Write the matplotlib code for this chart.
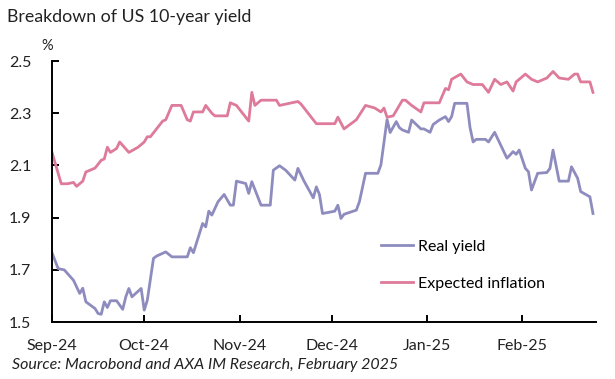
import pandas as pd
import matplotlib
matplotlib.use("Agg")
import matplotlib.pyplot as plt
import matplotlib.dates as mdates

# expected inflation (pink)
infl_dates = [
    "2024-09-01", "2024-09-02", "2024-09-04", "2024-09-06", "2024-09-08", "2024-09-09",
    "2024-09-11", "2024-09-12", "2024-09-15", "2024-09-17", "2024-09-18", "2024-09-19",
    "2024-09-20", "2024-09-22", "2024-09-23", "2024-09-26", "2024-09-29",
    "2024-10-01", "2024-10-02", "2024-10-03", "2024-10-07", "2024-10-08", "2024-10-10",
    "2024-10-13", "2024-10-15", "2024-10-16", "2024-10-17", "2024-10-20", "2024-10-21",
    "2024-10-23", "2024-10-24", "2024-10-28", "2024-10-29", "2024-10-31",
    "2024-11-04", "2024-11-05", "2024-11-06", "2024-11-08", "2024-11-13", "2024-11-14",
    "2024-11-16", "2024-11-18", "2024-11-20", "2024-11-21", "2024-11-24", "2024-11-26",
    "2024-12-02", "2024-12-03", "2024-12-05", "2024-12-09", "2024-12-12", "2024-12-15",
    "2024-12-17", "2024-12-18", "2024-12-19", "2024-12-21", "2024-12-24", "2024-12-25",
    "2024-12-27", "2024-12-30", "2024-12-31",
    "2025-01-05", "2025-01-07", "2025-01-08", "2025-01-09", "2025-01-12", "2025-01-14",
    "2025-01-16", "2025-01-19", "2025-01-21", "2025-01-23", "2025-01-25", "2025-01-27",
    "2025-01-29", "2025-01-30",
    "2025-02-02", "2025-02-04", "2025-02-06", "2025-02-09", "2025-02-11", "2025-02-13",
    "2025-02-16", "2025-02-18", "2025-02-19", "2025-02-20", "2025-02-23", "2025-02-24",
]
infl_values = [
    2.15, 2.11, 2.03, 2.03, 2.035, 2.02,
    2.04, 2.075, 2.09, 2.12, 2.125, 2.17,
    2.15, 2.165, 2.19, 2.15, 2.17,
    2.19, 2.21, 2.21, 2.27, 2.275, 2.33,
    2.33, 2.275, 2.27, 2.305, 2.305, 2.33,
    2.30, 2.29, 2.29, 2.34, 2.33,
    2.27, 2.38, 2.33, 2.35, 2.35, 2.33,
    2.335, 2.34, 2.345, 2.335, 2.29, 2.26,
    2.26, 2.285, 2.24, 2.275, 2.33, 2.32,
    2.305, 2.32, 2.285, 2.29, 2.35, 2.35,
    2.33, 2.305, 2.34,
    2.34, 2.395, 2.39, 2.43, 2.45, 2.42,
    2.41, 2.41, 2.38, 2.43, 2.41, 2.42,
    2.385, 2.42,
    2.45, 2.43, 2.42, 2.435, 2.46, 2.435,
    2.43, 2.45, 2.45, 2.42, 2.42, 2.38,
]

# real yield (purple)
real_dates = [
    "2024-09-01", "2024-09-03", "2024-09-05", "2024-09-08", "2024-09-10", "2024-09-11",
    "2024-09-12", "2024-09-15", "2024-09-16", "2024-09-17", "2024-09-18", "2024-09-19",
    "2024-09-20", "2024-09-22", "2024-09-24", "2024-09-25", "2024-09-26", "2024-09-27",
    "2024-09-30",
    "2024-10-01", "2024-10-02", "2024-10-04", "2024-10-05", "2024-10-08", "2024-10-10",
    "2024-10-15", "2024-10-16", "2024-10-17", "2024-10-20", "2024-10-21", "2024-10-22",
    "2024-10-23", "2024-10-25", "2024-10-27", "2024-10-29", "2024-10-30", "2024-10-31",
    "2024-11-03", "2024-11-04", "2024-11-05", "2024-11-08", "2024-11-11", "2024-11-12",
    "2024-11-14", "2024-11-16", "2024-11-19", "2024-11-20", "2024-11-22", "2024-11-25",
    "2024-11-26", "2024-11-27", "2024-11-28",
    "2024-12-02", "2024-12-03", "2024-12-04", "2024-12-05", "2024-12-09", "2024-12-10",
    "2024-12-12", "2024-12-16", "2024-12-17", "2024-12-19", "2024-12-20", "2024-12-22",
    "2024-12-23", "2024-12-24", "2024-12-26", "2024-12-27", "2024-12-30", "2024-12-31",
    "2025-01-02", "2025-01-03", "2025-01-05", "2025-01-07", "2025-01-08", "2025-01-09",
    "2025-01-10", "2025-01-14", "2025-01-15", "2025-01-16", "2025-01-17", "2025-01-20",
    "2025-01-21", "2025-01-23", "2025-01-27", "2025-01-28", "2025-01-29", "2025-01-30",
    "2025-01-31",
    "2025-02-02", "2025-02-03", "2025-02-04", "2025-02-06", "2025-02-09", "2025-02-10",
    "2025-02-11", "2025-02-13", "2025-02-16", "2025-02-17", "2025-02-19", "2025-02-20",
    "2025-02-23", "2025-02-24",
]
real_values = [
    1.765, 1.705, 1.70, 1.66, 1.61, 1.63,
    1.578, 1.552, 1.533, 1.53, 1.578, 1.556,
    1.582, 1.582, 1.549, 1.597, 1.629, 1.597,
    1.629,
    1.546, 1.584, 1.744, 1.753, 1.769, 1.75,
    1.75, 1.785, 1.766, 1.878, 1.865, 1.925,
    1.91, 1.961, 1.989, 1.948, 1.948, 2.04,
    2.031, 1.993, 2.038, 1.948, 1.948, 2.082,
    2.099, 2.082, 2.044, 2.089, 2.04, 1.976,
    2.018, 1.989, 1.916,
    1.925, 1.948, 1.897, 1.913, 1.929, 1.961,
    2.07, 2.07, 2.102, 2.276, 2.226, 2.268,
    2.245, 2.236, 2.227, 2.274, 2.24, 2.24,
    2.227, 2.257, 2.274, 2.287, 2.268, 2.287,
    2.338, 2.338, 2.245, 2.19, 2.2, 2.2,
    2.19, 2.227, 2.128, 2.14, 2.153, 2.143,
    2.159,
    2.089, 2.076, 2.006, 2.07, 2.073, 2.089,
    2.159, 2.04, 2.04, 2.095, 2.051, 2.0,
    1.98, 1.916,
]

y_ticks = [1.5, 1.7, 1.9, 2.1, 2.3, 2.5]

plt.rcParams['font.family'] = ['Lato', 'DejaVu Sans']

fig = plt.figure(figsize=(6.15, 3.79), dpi=100)
ax = fig.add_axes([0.0846, 0.150, 0.8846, 0.689])

ax.plot(pd.to_datetime(real_dates), real_values, color='#8E8CBE', lw=2.0,
        label='Real yield')
ax.plot(pd.to_datetime(infl_dates), infl_values, color='#DE7A9A', lw=2.0,
        label='Expected inflation')

ax.set_ylim(1.5, 2.5)
ax.set_yticks(y_ticks)
ax.set_yticklabels([f"{v:.1f}" for v in y_ticks])
ax.set_xlim(pd.Timestamp("2024-09-01"), pd.Timestamp("2025-02-25"))
ax.xaxis.set_major_locator(mdates.MonthLocator())
ax.xaxis.set_major_formatter(mdates.DateFormatter('%b-%y'))

for s in ['top', 'right']:
    ax.spines[s].set_visible(False)
for s in ['left', 'bottom']:
    ax.spines[s].set_linewidth(1.4)
ax.tick_params(direction='in', length=5, width=1.4, labelsize=11.5,
               labelcolor='#222222')
ax.tick_params(axis='y', pad=15)
ax.tick_params(axis='x', pad=12)

fig.text(0.011, 0.955, 'Breakdown of US 10-year yield', fontsize=12.8,
         color='#222222', va='center')
fig.text(0.077, 0.878, '%', fontsize=10.5, color='#222222', ha='center', va='center')
fig.text(0.02, 0.036, 'Source: Macrobond and AXA IM Research, February 2025',
         fontsize=11.5, style='italic', color='#222222', va='center')

ax.legend(loc='upper left', bbox_to_anchor=(0.579, 0.372), frameon=False,
          fontsize=11.5, handlelength=2.0, handletextpad=0.3, labelspacing=1.45)

fig.savefig('out.png', dpi=100)
